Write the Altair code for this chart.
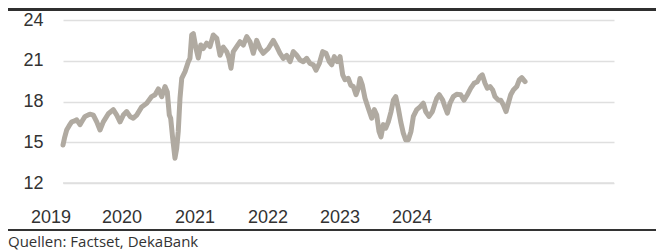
import altair as alt
import pandas as pd

# time in decimal years, value (valuation ratio)
t_years = [
    2019.000, 2019.016, 2019.040, 2019.066, 2019.095, 2019.120, 2019.150, 2019.186, 2019.213, 2019.241,
    2019.274, 2019.295, 2019.332, 2019.369, 2019.405, 2019.441, 2019.496, 2019.550, 2019.588, 2019.624,
    2019.660, 2019.697, 2019.733, 2019.769, 2019.806, 2019.861, 2019.916, 2019.970, 2020.007, 2020.043,
    2020.080, 2020.116, 2020.141, 2020.163, 2020.178, 2020.200, 2020.225, 2020.244, 2020.261, 2020.280,
    2020.299, 2020.335, 2020.371, 2020.389, 2020.408, 2020.426, 2020.455, 2020.480, 2020.507, 2020.535,
    2020.572, 2020.608, 2020.644, 2020.682, 2020.718, 2020.754, 2020.791, 2020.816, 2020.838, 2020.863,
    2020.900, 2020.937, 2020.973, 2021.010, 2021.046, 2021.082, 2021.119, 2021.155, 2021.191, 2021.246,
    2021.301, 2021.338, 2021.374, 2021.410, 2021.447, 2021.484, 2021.520, 2021.557, 2021.593, 2021.629,
    2021.666, 2021.702, 2021.739, 2021.768, 2021.804, 2021.841, 2021.877, 2021.914, 2021.940, 2021.968,
    2022.001, 2022.031, 2022.060, 2022.085, 2022.121, 2022.148, 2022.176, 2022.206, 2022.231, 2022.249,
    2022.275, 2022.304, 2022.340, 2022.377, 2022.406, 2022.432, 2022.457, 2022.479, 2022.504, 2022.531,
    2022.559, 2022.589, 2022.614, 2022.640, 2022.668, 2022.695, 2022.723, 2022.749, 2022.778, 2022.807,
    2022.833, 2022.870, 2022.906, 2022.942, 2022.968, 2023.004, 2023.041, 2023.070, 2023.089, 2023.117,
    2023.154, 2023.179, 2023.205, 2023.234, 2023.270, 2023.307, 2023.351, 2023.387, 2023.423, 2023.461,
    2023.497, 2023.533, 2023.562, 2023.588, 2023.617, 2023.642, 2023.672, 2023.701, 2023.726, 2023.763,
    2023.789, 2023.817, 2023.847, 2023.872, 2023.898, 2023.927, 2023.964, 2023.992, 2024.019, 2024.055,
]
values = [
    14.80, 15.30, 15.90, 16.20, 16.50, 16.55, 16.65, 16.30, 16.60, 16.90,
    17.00, 17.07, 17.00, 16.50, 15.90, 16.50, 17.10, 17.40, 17.00, 16.50,
    17.00, 17.26, 16.90, 16.77, 17.00, 17.60, 17.87, 18.36, 18.50, 18.93,
    18.36, 19.10, 18.70, 17.00, 16.77, 15.30, 13.83, 14.56, 15.80, 18.24,
    19.70, 20.20, 20.93, 21.18, 22.90, 23.00, 21.90, 21.20, 22.16, 21.90,
    22.30, 22.04, 22.90, 22.65, 21.40, 22.00, 21.67, 21.18, 20.45, 21.67,
    22.04, 22.40, 22.16, 22.78, 22.40, 21.55, 22.50, 21.90, 21.55, 21.90,
    22.50, 22.04, 21.55, 21.18, 21.40, 20.93, 21.67, 21.40, 21.06, 20.93,
    21.18, 20.80, 20.70, 20.30, 20.80, 21.67, 21.55, 20.93, 20.70, 21.30,
    20.93, 21.30, 19.96, 19.60, 19.70, 19.20, 19.10, 18.50, 18.98, 19.70,
    19.20, 18.24, 17.50, 16.77, 17.40, 17.00, 15.80, 15.40, 16.30, 16.04,
    16.50, 17.26, 18.10, 18.36, 17.50, 16.50, 15.67, 15.18, 15.18, 15.80,
    16.90, 17.40, 17.60, 17.87, 17.26, 16.90, 17.26, 17.87, 18.24, 18.50,
    18.10, 17.60, 17.14, 17.87, 18.36, 18.53, 18.50, 18.10, 18.50, 18.98,
    19.34, 19.46, 19.83, 19.96, 19.34, 18.98, 19.10, 18.85, 18.36, 18.10,
    18.10, 17.75, 17.26, 17.87, 18.50, 18.85, 19.10, 19.60, 19.76, 19.46,
]

x_domain = [2019.0, 2025.028]
y_domain = [12, 24]
y_ticks = [12, 15, 18, 21, 24]

year_labels = ["2019", "2020", "2021", "2022", "2023", "2024"]
year_label_pos = [2018.869, 2019.646, 2020.444, 2021.243, 2022.031, 2022.818]

source_text = "Quellen: Factset, DekaBank"

LINE_COLOR = "#b0aaa1"
DARK = "#333333"
BAR = "#2f2f2f"
GRID = "#dfdfdf"

x_scale = alt.Scale(domain=x_domain, nice=False, zero=False)
y_scale = alt.Scale(domain=y_domain, nice=False, zero=False)

df = pd.DataFrame({"t": t_years, "v": values})
labels_df = pd.DataFrame({"t": year_label_pos, "s": year_labels})
dummy = pd.DataFrame({"a": [0]})

line = alt.Chart(df).mark_line(
    color=LINE_COLOR, strokeWidth=5, strokeJoin="round", strokeCap="round"
).encode(
    x=alt.X("t:Q", scale=x_scale, axis=None),
    y=alt.Y(
        "v:Q",
        scale=y_scale,
        axis=alt.Axis(
            values=y_ticks,
            title=None,
            grid=True,
            gridColor=GRID,
            gridWidth=1.5,
            domain=False,
            ticks=False,
            tickSize=0,
            labelPadding=20,
            labelFont="Liberation Sans",
            labelFontSize=18,
            labelColor=DARK,
        ),
    ),
)

xlabels = alt.Chart(labels_df).mark_text(
    font="Liberation Sans", fontSize=18, color=DARK
).encode(
    x=alt.X("t:Q", scale=x_scale, axis=None),
    y=alt.value(198),
    text="s:N",
)

top_bar = alt.Chart(dummy).mark_rect(color=BAR).encode(
    x=alt.value(-55), x2=alt.value(593), y=alt.value(-12), y2=alt.value(-9)
)

bottom_rule = alt.Chart(dummy).mark_rect(color=DARK).encode(
    x=alt.value(-55), x2=alt.value(593), y=alt.value(209), y2=alt.value(211)
)

# baseline rule coinciding with the lowest grid line (value 12)
base_rule = alt.Chart(dummy).mark_rule(color=GRID, strokeWidth=1.5).encode(y=alt.value(163))

footer = alt.Chart(pd.DataFrame({"s": [source_text]})).mark_text(
    font="Open Sans", fontSize=15, color=DARK, align="left"
).encode(
    x=alt.value(-55), y=alt.value(222), text="s:N"
)

chart = alt.layer(line, xlabels, top_bar, bottom_rule, base_rule, footer).properties(
    width=551,
    height=163,
    padding={"left": 55, "top": 12, "right": 42, "bottom": 68},
    autosize=alt.AutoSizeParams(type="none"),
).configure_view(stroke=None)

chart.save("out.html", embed_options={"renderer": "svg", "actions": False})
